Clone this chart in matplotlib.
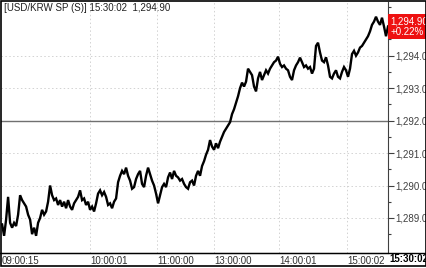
import numpy as np
import matplotlib
matplotlib.use("Agg")
import matplotlib.pyplot as plt
from matplotlib.lines import Line2D
from matplotlib.patches import Rectangle
import matplotlib.transforms as mtransforms

plt.rcParams["font.family"] = ["Liberation Sans", "DejaVu Sans"]

# USD/KRW spot, one sample per chart step (ticks, lunch break removed)
price = [
    1288.80, 1288.45, 1288.95, 1289.65, 1288.85, 1288.70, 1288.85, 1288.75, 1289.10, 1289.70,
    1289.55, 1289.45, 1289.35, 1289.10, 1288.95, 1288.50, 1288.70, 1288.45, 1288.85, 1289.00,
    1289.25, 1289.10, 1289.20, 1289.50, 1290.00, 1289.70, 1289.55, 1289.60, 1289.40, 1289.55,
    1289.35, 1289.50, 1289.30, 1289.55, 1289.35, 1289.25, 1289.45, 1289.55, 1289.65, 1289.85,
    1289.55, 1289.60, 1289.40, 1289.50, 1289.25, 1289.35, 1289.20, 1289.45, 1289.75, 1289.85,
    1289.70, 1289.80, 1289.65, 1289.40, 1289.45, 1289.30, 1289.50, 1289.60, 1290.10, 1290.30,
    1290.45, 1290.35, 1290.55, 1290.30, 1290.15, 1289.90, 1289.95, 1290.20, 1290.35, 1290.45,
    1290.05, 1289.95, 1290.30, 1290.55, 1290.35, 1290.15, 1290.00, 1289.75, 1289.45, 1289.70,
    1289.95, 1290.05, 1289.95, 1290.25, 1290.40, 1290.20, 1290.45, 1290.30, 1290.25, 1290.15,
    1290.20, 1290.05, 1289.95, 1289.90, 1290.10, 1290.15, 1290.00, 1290.30, 1290.45, 1290.30,
    1290.60, 1290.75, 1290.95, 1291.10, 1291.40, 1291.20, 1291.10, 1291.30, 1291.15, 1291.35,
    1291.50, 1291.65, 1291.75, 1291.85, 1291.95, 1292.20, 1292.35, 1292.55, 1292.75, 1293.00,
    1293.17, 1293.05, 1293.20, 1293.60, 1293.50, 1293.40, 1293.05, 1292.90, 1293.30, 1293.50,
    1293.25, 1293.40, 1293.55, 1293.45, 1293.60, 1293.70, 1293.80, 1293.85, 1293.97, 1293.75,
    1293.65, 1293.70, 1293.60, 1293.55, 1293.35, 1293.25, 1293.55, 1293.70, 1293.80, 1293.94,
    1293.80, 1293.65, 1293.70, 1293.60, 1293.65, 1293.45, 1293.60, 1294.30, 1294.40, 1294.10,
    1293.85, 1293.80, 1293.95, 1293.70, 1293.35, 1293.30, 1293.45, 1293.55, 1293.35, 1293.30,
    1293.50, 1293.65, 1293.55, 1293.35, 1293.60, 1294.05, 1294.15, 1294.00, 1294.10, 1294.25,
    1294.30, 1294.40, 1294.50, 1294.60, 1294.75, 1294.95, 1295.05, 1295.20, 1295.05, 1294.95,
    1295.17, 1294.90, 1294.60, 1294.90,
]
time_pos = [0, 44, 77.5, 106, 138.5, 172.5]
time_lbl = ["09:00:15", "10:00:01", "11:00:00", "13:00:00", "14:00:01", "15:00:02"]
y_ticks = [1289, 1290, 1291, 1292, 1293, 1294]
prev_close = 1292.0
last_time = "15:30:02"
last_price = 1294.90
change_pct = 0.22

W, H = 427, 268
fig = plt.figure(figsize=(W / 100, H / 100), dpi=100)
ax = fig.add_axes([1.5 / W, 15 / H, 386.5 / W, 251.5 / H])

x = np.arange(len(price))
ax.plot(x, price, color="black", lw=1.7, solid_joinstyle="miter", zorder=3)
ax.set_xlim(-0.3, len(price) - 1)
ax.set_ylim(1287.92, 1295.67)

grid_kw = dict(color="#d2d2d2", lw=0.7, ls=(0, (1.5, 2.5)), zorder=1)
for p in time_pos[1:]:
    ax.axvline(p, **grid_kw)
for v in y_ticks:
    if v != prev_close:
        ax.axhline(v, **grid_kw)
ax.axhline(prev_close, color="#707070", lw=1.0, zorder=2)

ax.set_xticks(time_pos)
ax.set_xticklabels(time_lbl, ha="left")
ax.tick_params(axis="x", length=0, pad=2.0, labelsize=7, colors="#303030")

ax.yaxis.tick_right()
ax.set_yticks(y_ticks)
ax.set_yticklabels([f"{v:,.2f}" for v in y_ticks])
ax.set_yticks([v + 0.5 for v in y_ticks[:-1]] + [1288.5, 1294.5, 1295.5], minor=True)
ax.tick_params(axis="y", which="major", length=4, width=0.8, pad=1, labelsize=7, colors="#404040")
ax.tick_params(axis="y", which="minor", length=2, width=0.8, color="#404040")

for s in ["left", "top"]:
    ax.spines[s].set_visible(False)
ax.spines["right"].set_color("#404040")
ax.spines["bottom"].set_color("black")

# current price flag
trans = mtransforms.blended_transform_factory(ax.transAxes, ax.transData)
ax.text(1.006, last_price, f"{last_price:,.2f}\n+{change_pct:.2f}%", transform=trans,
        ha="left", va="center", fontsize=7, color="white", linespacing=1.05,
        bbox=dict(facecolor="#ee1111", edgecolor="none", pad=1.8), clip_on=False, zorder=5)

# outer frame, full-width axis line, header and time stamp
fig.add_artist(Rectangle((1 / W, 2 / H), 425 / W, 265 / H, transform=fig.transFigure,
                         fill=False, edgecolor="black", lw=1.2))
fig.add_artist(Line2D([0, 1], [15 / H, 15 / H], transform=fig.transFigure, color="black", lw=1.0))
fig.text(4 / W, 1 - 3 / H, f"[USD/KRW SP (S)] {last_time}  {last_price:,.2f}",
         ha="left", va="top", fontsize=7, color="#202020")
fig.text(389 / W, 8.5 / H, last_time, ha="left", va="center", fontsize=7, fontweight="bold")

fig.savefig("out.png", dpi=100)
